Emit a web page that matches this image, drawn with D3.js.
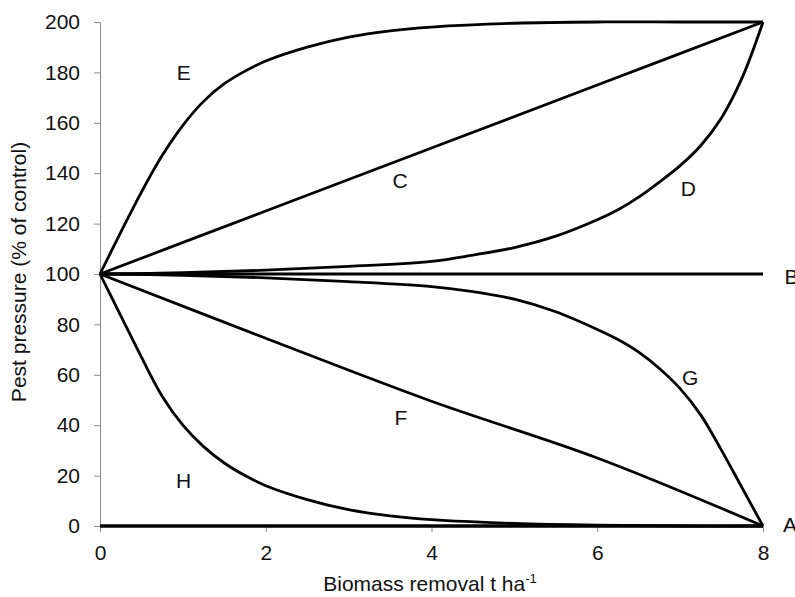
<!DOCTYPE html>
<html>
<head>
<meta charset="utf-8">
<script src="https://cdn.jsdelivr.net/npm/d3@7"></script>
<style>
  body { margin: 0; background: #fff; }
  text { font-family: "Liberation Sans", Arial, sans-serif; }
</style>
</head>
<body>
<svg id="chart" width="795" height="597"></svg>
<script>
// values (biomass removal t/ha -> pest pressure % of control)
var curveA = [[0,0],[8,0]];
var curveB = [[0,100],[8,100]];
var curveC = [[0,100],[2,125],[4,150],[6,175],[8,200]];
var curveD = [[0,100],[1,100.5],[2,101.5],[3,103],[4,105],[4.5,107.5],[5,110.5],[5.5,115],[6,121.5],[6.25,125.5],[6.5,130.5],[6.75,136.5],[7,143],[7.25,151],[7.5,162],[7.75,178],[8,200]];
var curveE = [[0,100],[0.25,116.5],[0.5,132.5],[0.75,147],[1,159],[1.25,168.5],[1.5,175.5],[1.75,180.5],[2,184.5],[2.5,190],[3,194],[3.5,196.5],[4,198],[5,199.5],[6,200],[7,200],[8,200]];
var curveF = [[0,100],[2,74.5],[4,49.5],[6,27],[8,0]];
var curveG = [[0,100],[1,99.5],[2,98.5],[3,97],[4,95],[4.5,93],[5,90],[5.5,85],[6,78],[6.25,74],[6.5,69],[6.75,62.5],[7,54.5],[7.25,44],[7.5,30],[7.75,15],[8,0]];
var curveH = [[0,100],[0.25,83.5],[0.5,67],[0.75,51.5],[1,40],[1.25,31.5],[1.5,25],[1.75,20],[2,16],[2.5,10.5],[3,6.5],[3.5,4],[4,2.5],[5,1],[6,0.3],[7,0],[8,0]];

var seriesNames = ["A","B","C","D","E","F","G","H"];
var seriesData = [curveA, curveB, curveC, curveD, curveE, curveF, curveG, curveH];

// where the letter for each curve sits, in data units
var labelNames = ["E","C","D","B","G","F","H","A"];
var labelX = [1.01, 3.62, 7.1, 8.26, 7.12, 3.63, 1.01, 8.24];
var labelY = [177, 134, 131, 96, 56, 40, 15, -2.4];
var labelAnchor = ["middle","middle","middle","start","middle","middle","middle","start"];

var xTicks = [0, 2, 4, 6, 8];
var yTicks = [0, 20, 40, 60, 80, 100, 120, 140, 160, 180, 200];

var svg = d3.select("#chart");

var x = d3.scaleLinear().domain([0, 8]).range([100, 763]);
var y = d3.scaleLinear().domain([0, 200]).range([526, 22]);

var axisColor = "#8a8a8a";

var xAxis = svg.append("g")
    .attr("transform", "translate(0,526)")
    .call(d3.axisBottom(x).tickValues(xTicks).tickSize(6).tickSizeOuter(0).tickPadding(13));
var yAxis = svg.append("g")
    .attr("transform", "translate(100,0)")
    .call(d3.axisLeft(y).tickValues(yTicks).tickSize(6).tickSizeOuter(0).tickPadding(14));

[xAxis, yAxis].forEach(function(g) {
  g.selectAll("path, line").attr("stroke", axisColor).attr("stroke-width", 1);
  g.selectAll("text")
    .attr("fill", "#111")
    .style("font-size", "21px")
    .style("font-family", "'Liberation Sans', Arial, sans-serif");
});

var line = d3.line()
    .x(function(d) { return x(d[0]); })
    .y(function(d) { return y(d[1]); })
    .curve(d3.curveCatmullRom.alpha(0.5));

svg.append("g")
  .selectAll("path")
  .data(seriesData)
  .enter().append("path")
    .attr("d", line)
    .attr("fill", "none")
    .attr("stroke", "#000")
    .attr("stroke-width", function(d, i) { return seriesNames[i] == "A" ? 3.5 : 2.8; })
    .attr("stroke-linejoin", "round");

svg.append("g")
  .selectAll("text")
  .data(labelNames)
  .enter().append("text")
    .attr("x", function(d, i) { return x(labelX[i]); })
    .attr("y", function(d, i) { return y(labelY[i]); })
    .attr("text-anchor", function(d, i) { return labelAnchor[i]; })
    .style("font-size", "21px")
    .attr("fill", "#111")
    .text(function(d) { return d; });

// axis titles
var xTitle = svg.append("text")
    .attr("x", 430)
    .attr("y", 591)
    .attr("text-anchor", "middle")
    .style("font-size", "21px")
    .attr("fill", "#111");
xTitle.append("tspan").text("Biomass removal t ha");
xTitle.append("tspan").attr("dy", -8).style("font-size", "13px").text("-1");

svg.append("text")
    .attr("transform", "translate(26,272) rotate(-90)")
    .attr("text-anchor", "middle")
    .style("font-size", "21px")
    .attr("fill", "#111")
    .text("Pest pressure (% of control)");
</script>
</body>
</html>
